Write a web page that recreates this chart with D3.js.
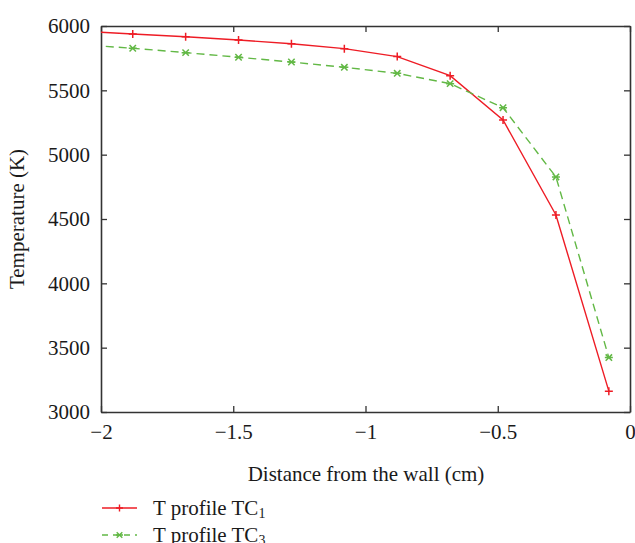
<!DOCTYPE html>
<html lang="en">
<head>
    <meta charset="UTF-8">
    <title>Temperature profile</title>
    <script src="https://d3js.org/d3.v7.min.js"></script>
    <style>
        body { margin: 0; background: #fff; }
        svg { display: block; font-family: "Liberation Serif", "DejaVu Serif", serif; }
    </style>
</head>
<body>
    <div id="chart"></div>
    <script>
        const width = 635;
        const height = 543;

        // distance from the wall (cm)
        const distance = [-2.08, -1.88, -1.68, -1.48, -1.28, -1.08, -0.88, -0.68, -0.48, -0.28, -0.08];
        // temperature (K)
        const tc1 = [5960, 5938, 5917, 5891, 5862, 5824, 5762, 5614, 5270, 4531, 3162];
        const tc3 = [5855, 5827, 5793, 5757, 5720, 5679, 5632, 5552, 5365, 4827, 3423];

        const xTicks = [-2, -1.5, -1, -0.5, 0];
        const yTicks = [3000, 3500, 4000, 4500, 5000, 5500, 6000];

        const fontSize = '21px';
        const margin = {top: 26, right: 5, bottom: 131, left: 101};
        const x = d3.scaleLinear().domain([-2, 0]).range([margin.left, width - margin.right]);
        const y = d3.scaleLinear().domain([3000, 6000]).range([height - margin.bottom, margin.top]);

        const svg = d3.select('#chart').append('svg')
            .attr('width', width)
            .attr('height', height);

        svg.append('defs').append('clipPath').attr('id', 'plot-clip')
            .append('rect')
            .attr('x', x(-2)).attr('y', y(6000))
            .attr('width', x(0) - x(-2)).attr('height', y(3000) - y(6000));

        // axes, ticks inside on all four sides
        const tick = 6;
        const fmt = d => d < 0 ? '\u2212' + Math.abs(d) : String(d);
        const axisColor = '#333';

        const axisB = svg.append('g').attr('transform', `translate(0,${y(3000)})`)
            .call(d3.axisBottom(x).tickValues(xTicks).tickSizeInner(-tick).tickSizeOuter(0).tickPadding(12).tickFormat(fmt));
        const axisT = svg.append('g').attr('transform', `translate(0,${y(6000)})`)
            .call(d3.axisTop(x).tickValues(xTicks).tickSizeInner(-tick).tickSizeOuter(0).tickFormat(''));
        const axisL = svg.append('g').attr('transform', `translate(${x(-2)},0)`)
            .call(d3.axisLeft(y).tickValues(yTicks).tickSizeInner(-tick).tickSizeOuter(0).tickPadding(11).tickFormat(d => d));
        const axisR = svg.append('g').attr('transform', `translate(${x(0)},0)`)
            .call(d3.axisRight(y).tickValues(yTicks).tickSizeInner(-tick).tickSizeOuter(0).tickFormat(''));

        [axisB, axisT, axisL, axisR].forEach(g => {
            g.select('.domain').attr('stroke', axisColor).attr('stroke-width', 1.6);
            g.selectAll('.tick line').attr('stroke', axisColor).attr('stroke-width', 1.3);
            g.selectAll('.tick text').attr('fill', '#1a1a1a')
                .style('font-family', '"Liberation Serif", serif').style('font-size', fontSize);
        });

        // series
        const plot = svg.append('g').attr('clip-path', 'url(#plot-clip)');
        const line = d3.line().x((d, i) => x(distance[i])).y(d => y(d));

        const series = [
            {name: 'T profile TC', sub: '1', values: tc1, color: '#ee1c25', dash: null, marker: 'plus'},
            {name: 'T profile TC', sub: '3', values: tc3, color: '#62b845', dash: '8,5', marker: 'star'}
        ];

        function markerPath(type, s) {
            if (type === 'plus') return `M${-s},0H${s}M0,${-s}V${s}`;
            const k = s * 0.8;
            return `M${-s},0H${s}M${-k},${-k}L${k},${k}M${-k},${k}L${k},${-k}`;
        }

        series.forEach(s => {
            plot.append('path')
                .attr('d', line(s.values))
                .attr('fill', 'none')
                .attr('stroke', s.color)
                .attr('stroke-width', 1.4)
                .attr('stroke-dasharray', s.dash);
            plot.selectAll(null).data(s.values).enter().append('path')
                .attr('transform', (d, i) => `translate(${x(distance[i])},${y(d)})`)
                .attr('d', markerPath(s.marker, 4))
                .attr('fill', 'none')
                .attr('stroke', s.color)
                .attr('stroke-width', 1.5);
        });

        // axis titles
        svg.append('text')
            .attr('x', 366).attr('y', 481)
            .attr('text-anchor', 'middle')
            .style('font-size', fontSize).attr('fill', '#1a1a1a')
            .text('Distance from the wall (cm)');

        svg.append('text')
            .attr('transform', `translate(24,${(y(3000) + y(6000)) / 2}) rotate(-90)`)
            .attr('text-anchor', 'middle')
            .style('font-size', fontSize).attr('fill', '#1a1a1a')
            .text('Temperature (K)');

        // legend
        const legend = svg.append('g');
        series.forEach((s, i) => {
            const ly = 508 + i * 27;
            legend.append('line')
                .attr('x1', 102).attr('x2', 137).attr('y1', ly).attr('y2', ly)
                .attr('stroke', s.color).attr('stroke-width', 1.4)
                .attr('stroke-dasharray', s.dash ? '6,5' : null);
            legend.append('path')
                .attr('transform', `translate(119.5,${ly})`)
                .attr('d', markerPath(s.marker, 3.5))
                .attr('fill', 'none').attr('stroke', s.color).attr('stroke-width', 1.4);
            const t = legend.append('text')
                .attr('x', 153).attr('y', ly + 7)
                .style('font-size', fontSize).attr('fill', '#1a1a1a');
            t.append('tspan').text(s.name);
            t.append('tspan').attr('dy', 3).style('font-size', '14px').text(s.sub);
        });
    </script>
</body>
</html>
